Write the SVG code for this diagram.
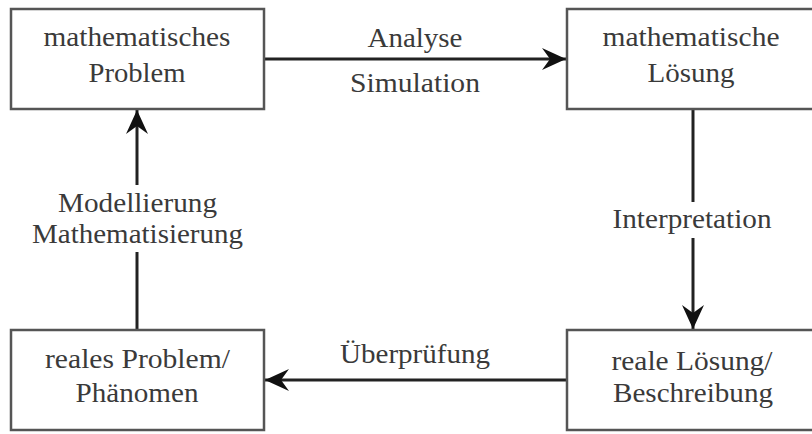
<svg xmlns="http://www.w3.org/2000/svg" width="812" height="434" viewBox="0 0 812 434">
<style>
.box{fill:#fff;stroke:#555;stroke-width:2.5}
.lbl{font-family:"Liberation Serif","Times New Roman",serif;font-size:27px;fill:#3a3a3a;text-anchor:middle}
.ln{stroke:#222;stroke-width:3;fill:none}
</style>
<defs>
<marker id="ah" markerUnits="userSpaceOnUse" markerWidth="30" markerHeight="30" viewBox="-26 -15 30 30" refX="0" refY="0" orient="auto">
<path d="M0,0 L-24,-11 L-16,0 L-24,11 Z" fill="#111"/>
</marker>
</defs>
<rect width="812" height="434" fill="#fff"/>
<g id="connectors">
<line class="ln" x1="264" y1="59" x2="566" y2="59" marker-end="url(#ah)"/>
<text class="lbl" x="415" y="47" textLength="95" lengthAdjust="spacingAndGlyphs">Analyse</text>
<text class="lbl" x="415" y="92" textLength="130" lengthAdjust="spacingAndGlyphs">Simulation</text>
<line class="ln" x1="693" y1="109" x2="693" y2="202"/>
<line class="ln" x1="693" y1="238" x2="693" y2="329" marker-end="url(#ah)"/>
<text class="lbl" x="692" y="228" textLength="159" lengthAdjust="spacingAndGlyphs">Interpretation</text>
<line class="ln" x1="567" y1="380" x2="265" y2="380" marker-end="url(#ah)"/>
<text class="lbl" x="415" y="363" textLength="150" lengthAdjust="spacingAndGlyphs">Überprüfung</text>
<line class="ln" x1="137" y1="330" x2="137" y2="252"/>
<line class="ln" x1="137" y1="185" x2="137" y2="110" marker-end="url(#ah)"/>
<text class="lbl" x="137.5" y="212" textLength="159" lengthAdjust="spacingAndGlyphs">Modellierung</text>
<text class="lbl" x="137.5" y="243" textLength="211" lengthAdjust="spacingAndGlyphs">Mathematisierung</text>
</g>
<g id="math-problem">
<rect class="box" x="11" y="9" width="253" height="100"/>
<text class="lbl" x="137" y="46" textLength="187" lengthAdjust="spacingAndGlyphs">mathematisches</text>
<text class="lbl" x="137" y="82" textLength="97" lengthAdjust="spacingAndGlyphs">Problem</text>
</g>
<g id="math-solution">
<rect class="box" x="567" y="9" width="260" height="100"/>
<text class="lbl" x="691" y="46" textLength="177" lengthAdjust="spacingAndGlyphs">mathematische</text>
<text class="lbl" x="691" y="82" textLength="87" lengthAdjust="spacingAndGlyphs">Lösung</text>
</g>
<g id="real-problem">
<rect class="box" x="11" y="330" width="253" height="100"/>
<text class="lbl" x="137.5" y="368" textLength="185" lengthAdjust="spacingAndGlyphs">reales Problem/</text>
<text class="lbl" x="137" y="402" textLength="123" lengthAdjust="spacingAndGlyphs">Phänomen</text>
</g>
<g id="real-solution">
<rect class="box" x="567" y="330" width="260" height="100"/>
<text class="lbl" x="692" y="370" textLength="161" lengthAdjust="spacingAndGlyphs">reale Lösung/</text>
<text class="lbl" x="693" y="402" textLength="160" lengthAdjust="spacingAndGlyphs">Beschreibung</text>
</g>
</svg>
